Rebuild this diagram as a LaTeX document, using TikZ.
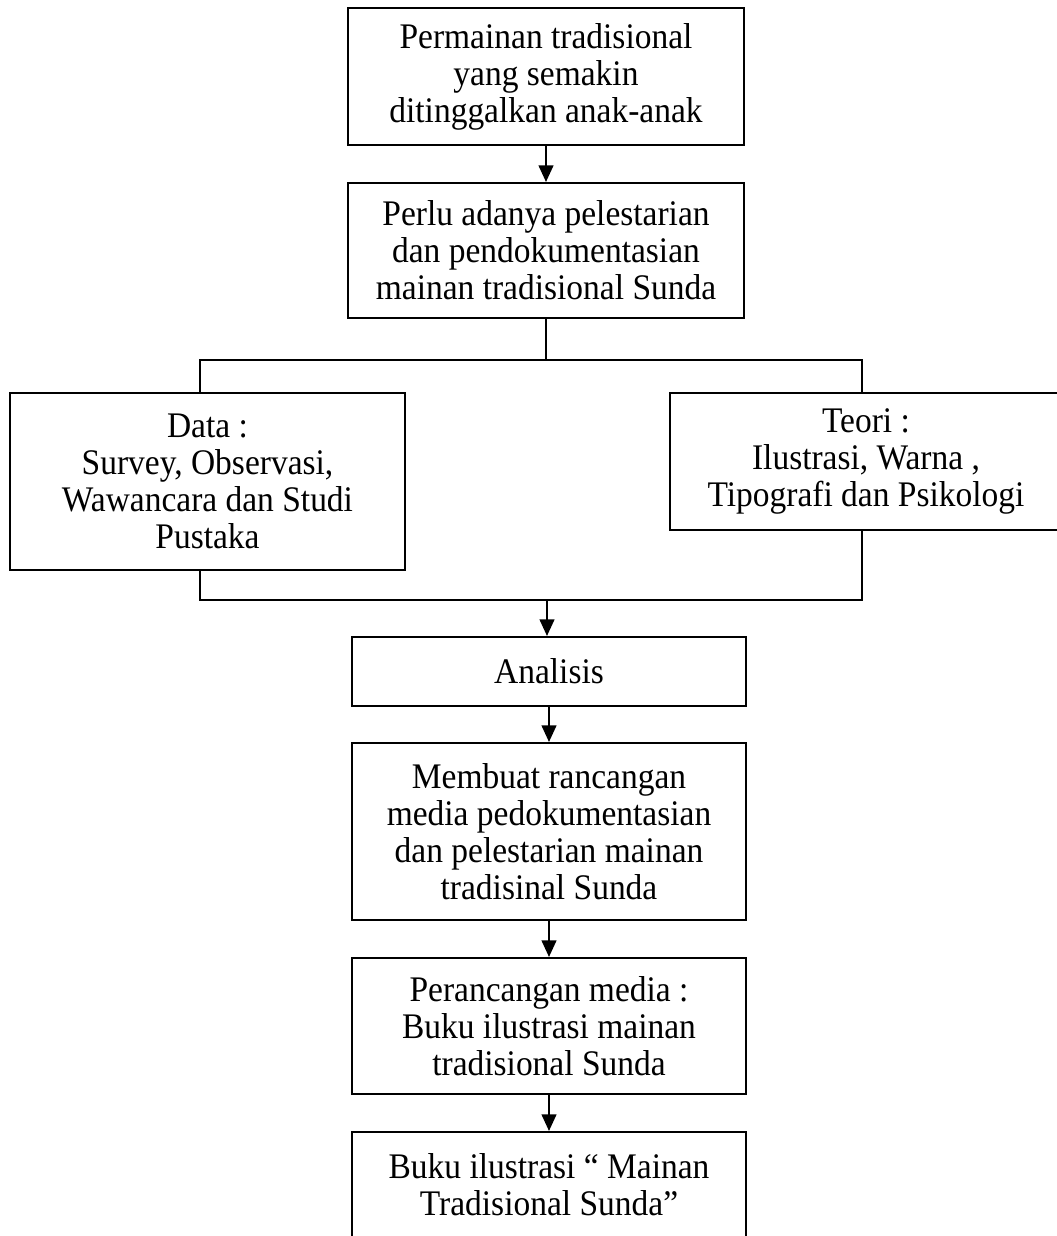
\documentclass[tikz,border=0pt]{standalone}
\usepackage{fontspec}
\setmainfont[FakeStretch=0.93]{Liberation Serif}
\usetikzlibrary{arrows.meta}
\begin{document}
\begin{tikzpicture}[x=0.75pt,y=-0.75pt,
  box/.style={draw, line width=1.5pt, inner sep=0pt, align=center,
    font=\fontsize{27}{27.8}\selectfont},
  conn/.style={line width=1.5pt},
  arr/.style={line width=1.7pt, -{Triangle[length=12.5pt,width=11pt]}}]
\useasboundingbox (0,0) rectangle (1057,1236);
\clip (0,0) rectangle (1057,1236);

\node[box, minimum width={396*0.75pt}, minimum height={137*0.75pt}] (b1) at (546,76.5)
  {Permainan tradisional\\yang semakin\\ditinggalkan anak-anak};
\node[box, minimum width={396*0.75pt}, minimum height={135*0.75pt}] (b2) at (546,250.5)
  {Perlu adanya pelestarian\\dan pendokumentasian\\mainan tradisional Sunda};
\node[box, minimum width={395*0.75pt}, minimum height={177*0.75pt}] (data) at (207.5,481.5)
  {Data :\\Survey, Observasi,\\Wawancara dan Studi\\Pustaka};
\node[box, minimum width={392*0.75pt}, minimum height={137*0.75pt}] (teori) at (866,461.5)
  {Teori :\\Ilustrasi, Warna ,\\Tipografi dan Psikologi};
\node[box, minimum width={394*0.75pt}, minimum height={69*0.75pt}] (analisis) at (549,671.5)
  {Analisis};
\node[box, minimum width={394*0.75pt}, minimum height={177*0.75pt}] (membuat) at (549,831.5)
  {Membuat rancangan\\media pedokumentasian\\dan pelestarian mainan\\tradisinal Sunda};
\node[box, minimum width={394*0.75pt}, minimum height={136*0.75pt}] (peran) at (549,1026)
  {Perancangan media :\\Buku ilustrasi mainan\\tradisional Sunda};
\node[box, minimum width={394*0.75pt}, minimum height={106*0.75pt}] (final) at (549,1185)
  {Buku ilustrasi “ Mainan\\Tradisional Sunda”};

\coordinate (tbar) at (546,360);
\coordinate (tl) at (200,360);
\coordinate (tr) at (862,360);
\coordinate (bl) at (200,600);
\coordinate (br) at (862,600);
\coordinate (bm) at (547,600);

\draw[arr] (b1.south) -- (b2.north);
\draw[conn] (b2.south) -- (tbar);
\draw[conn] (tl |- data.north) -- (tl) -- (tr) -- (tr |- teori.north);
\draw[conn] (bl |- data.south) -- (bl) -- (br) -- (br |- teori.south);
\draw[arr] (bm) -- (bm |- analisis.north);
\draw[arr] (analisis.south) -- (membuat.north);
\draw[arr] (membuat.south) -- (peran.north);
\draw[arr] (peran.south) -- (final.north);
\end{tikzpicture}
\end{document}
